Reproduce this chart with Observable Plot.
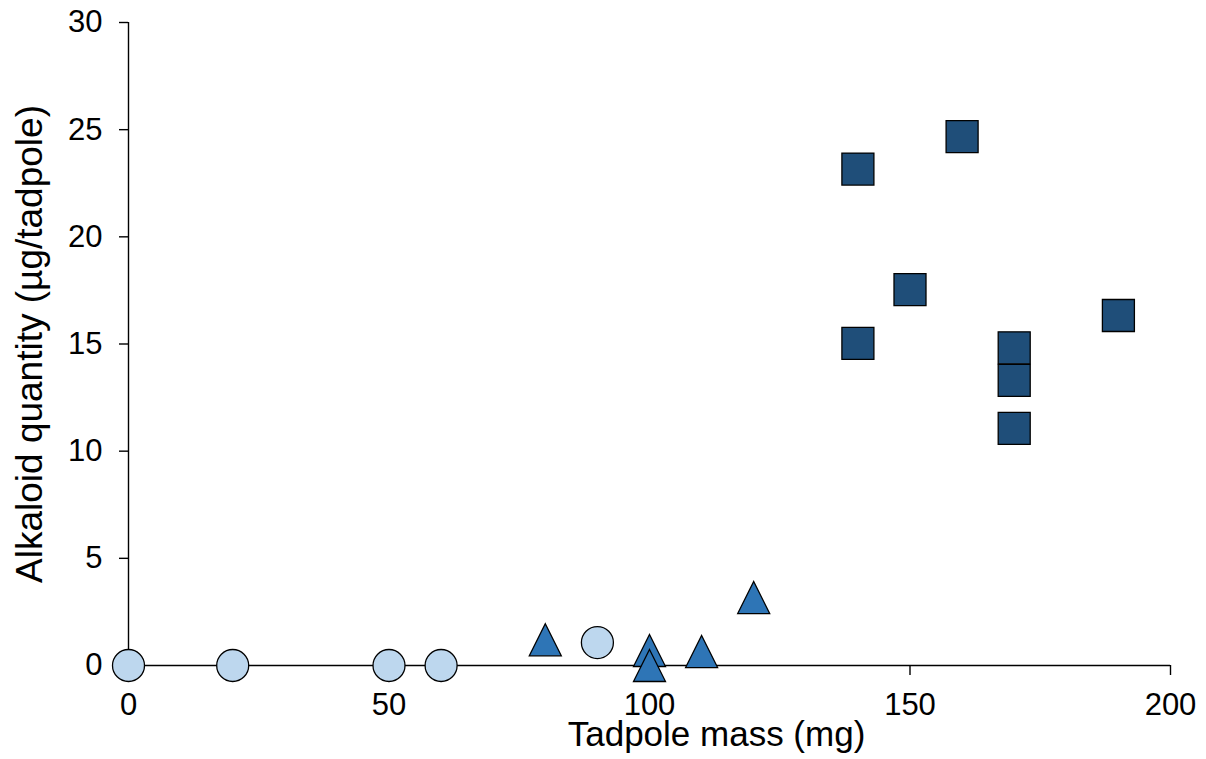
<!DOCTYPE html>
<html>
<head>
<meta charset="utf-8">
<script src="https://cdn.jsdelivr.net/npm/d3@7"></script>
<script src="https://cdn.jsdelivr.net/npm/@observablehq/plot@0.6"></script>
<style>
  html, body { margin: 0; padding: 0; background: #ffffff; }
  #chart svg { display: block; }
</style>
</head>
<body>
<div id="chart"></div>
<script>
// Tadpole mass (mg) vs alkaloid quantity (µg/tadpole), three groups
const smallMass   = [0, 20, 50, 60, 90];
const smallAlk    = [0, 0, 0, 0, 1.07];

const mediumMass  = [80, 100, 110, 120, 100];
const mediumAlk   = [1.2, 0.7, 0.65, 3.17, 0];

const largeMass   = [140, 160, 150, 140, 170, 170, 170, 190];
const largeAlk    = [23.16, 24.68, 17.54, 15.03, 14.82, 13.3, 11.06, 16.33];

const xTicks = [0, 50, 100, 150, 200];
const yTicks = [0, 5, 10, 15, 20, 25, 30];

const xTitle = "Tadpole mass (mg)";
const yTitle = "Alkaloid quantity (µg/tadpole)";

const toRows = (xs, ys) => xs.map((x, i) => ({mass: x, alkaloid: ys[i]}));
const small = toRows(smallMass, smallAlk);
const medium = toRows(mediumMass, mediumAlk);
const large = toRows(largeMass, largeAlk);

// Marker shapes centred on their bounding box; half-extent h = r
const squareSymbol = {
  draw(context, size) {
    const h = Math.sqrt(size / Math.PI);
    context.moveTo(-h, -h);
    context.lineTo(h, -h);
    context.lineTo(h, h);
    context.lineTo(-h, h);
    context.closePath();
  }
};
const triangleSymbol = {
  draw(context, size) {
    const h = Math.sqrt(size / Math.PI);
    context.moveTo(0, -h);
    context.lineTo(h, h);
    context.lineTo(-h, h);
    context.closePath();
  }
};

const font = "'Liberation Sans', Arial, Helvetica, sans-serif";

const chart = Plot.plot({
  width: 1206,
  height: 759,
  marginLeft: 128,
  marginRight: 36,
  marginTop: 22,
  marginBottom: 94,
  style: {fontFamily: font, background: "#ffffff", color: "#000000", overflow: "visible"},
  x: {domain: [0, 200]},
  y: {domain: [0, 30]},
  marks: [
    Plot.ruleY([0], {stroke: "#000000", strokeWidth: 1.4}),
    Plot.ruleX([0], {stroke: "#000000", strokeWidth: 1.4}),
    Plot.axisX({ticks: xTicks, tickSize: 10, tickPadding: 17, fontSize: 31, label: null, strokeWidth: 1.4}),
    Plot.axisY({ticks: yTicks, tickSize: 9, tickPadding: 17, fontSize: 31, label: null, strokeWidth: 1.4}),
    Plot.dot(small, {x: "mass", y: "alkaloid", r: 16, symbol: "circle", fill: "#bdd7ee", stroke: "#000000", strokeWidth: 1.3}),
    Plot.dot(medium, {x: "mass", y: "alkaloid", r: 16, symbol: triangleSymbol, fill: "#2e75b6", stroke: "#000000", strokeWidth: 1.3}),
    Plot.dot(large, {x: "mass", y: "alkaloid", r: 16, symbol: squareSymbol, fill: "#1f4e79", stroke: "#000000", strokeWidth: 1.3}),
    Plot.text([xTitle], {text: d => d, frameAnchor: "bottom", textAnchor: "middle", lineAnchor: "bottom", dx: 67, dy: 80, fontSize: 35, fill: "#000000"}),
    Plot.text([yTitle], {text: d => d, frameAnchor: "left", textAnchor: "middle", lineAnchor: "bottom", rotate: -90, dx: -87, fontSize: 37, fill: "#000000"})
  ]
});

document.getElementById("chart").appendChild(chart);
</script>
</body>
</html>
